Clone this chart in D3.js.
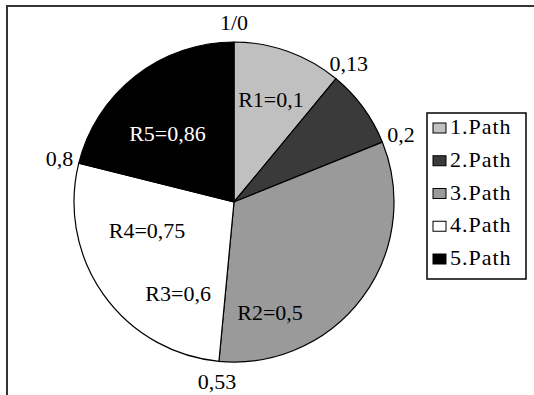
<!DOCTYPE html>
<html>
<head>
<meta charset="utf-8">
<script src="https://cdn.jsdelivr.net/npm/d3@7/dist/d3.min.js"></script>
<style>
  html, body { margin: 0; padding: 0; background: #ffffff; }
  svg { display: block; }
</style>
</head>
<body>
<svg id="chart" width="534" height="395"></svg>
<script>
// ---- data ----
const categories = ["1.Path", "2.Path", "3.Path", "4.Path", "5.Path"];
const sliceValues = [0.110, 0.079, 0.326, 0.274, 0.211];
const boundaryLabels = ["1/0", "0,13", "0,2", "0,53", "0,8"];
const innerLabels = ["R1=0,1", "R2=0,5", "R3=0,6", "R4=0,75", "R5=0,86"];
const colors = ["#c0c0c0", "#3a3a3a", "#9a9a9a", "#ffffff", "#000000"];

// ---- layout (polar placement of inner labels: degrees clockwise from top, radius px) ----
const innerLabelPolar = [
  [19.8, 109], [161.9, 116], [211.5, 107], [251.9, 91.5], [315.8, 95.5]
];
const innerLabelColor = ["#000", "#000", "#000", "#000", "#fff"];
const FONT = "'Liberation Serif', 'Times New Roman', Times, serif";

const cx = 234, cy = 202, R = 160;
const svg = d3.select("#chart");

// frame
svg.append("rect")
  .attr("x", 7).attr("y", 6).attr("width", 560).attr("height", 420)
  .attr("fill", "#fff").attr("stroke", "#333").attr("stroke-width", 2);

const g = svg.append("g").attr("transform", `translate(${cx},${cy})`);

const pie = d3.pie().sort(null).value(d => d)(sliceValues);
const arc = d3.arc().innerRadius(0).outerRadius(R);

g.selectAll("path.slice").data(pie).join("path")
  .attr("class", "slice")
  .attr("d", arc)
  .attr("fill", (d, i) => colors[i])
  .attr("stroke", "#000")
  .attr("stroke-width", 1.2)
  .attr("stroke-linejoin", "round");

// boundary labels at slice start angles
const labelR = 180;
g.selectAll("text.bnd").data(pie).join("text")
  .attr("class", "bnd")
  .attr("x", d => labelR * Math.sin(d.startAngle))
  .attr("y", d => -labelR * Math.cos(d.startAngle))
  .attr("dy", "0.35em")
  .attr("text-anchor", "middle")
  .attr("font-family", FONT)
  .attr("font-size", 22)
  .attr("fill", "#000")
  .text((d, i) => boundaryLabels[i]);

// inner labels
g.selectAll("text.inn").data(innerLabels).join("text")
  .attr("class", "inn")
  .attr("x", (d, i) => innerLabelPolar[i][1] * Math.sin(innerLabelPolar[i][0] * Math.PI / 180))
  .attr("y", (d, i) => -innerLabelPolar[i][1] * Math.cos(innerLabelPolar[i][0] * Math.PI / 180))
  .attr("dy", "0.35em")
  .attr("text-anchor", "middle")
  .attr("font-family", FONT)
  .attr("font-size", 22)
  .attr("fill", (d, i) => innerLabelColor[i])
  .text(d => d);

// legend
const lx = 427, ly = 113, lw = 99, lh = 166;
const lg = svg.append("g");
lg.append("rect")
  .attr("x", lx).attr("y", ly).attr("width", lw).attr("height", lh)
  .attr("fill", "#fff").attr("stroke", "#000").attr("stroke-width", 1.5);

const rowY = d3.scalePoint().domain(categories).range([134, 265]);
const rows = lg.selectAll("g.row").data(categories).join("g").attr("class", "row");
rows.append("rect")
  .attr("x", 433).attr("y", d => rowY(d) - 11)
  .attr("width", 13).attr("height", 10)
  .attr("fill", (d, i) => colors[i])
  .attr("stroke", "#000").attr("stroke-width", 1);
rows.append("text")
  .attr("x", 450).attr("y", d => rowY(d))
  .attr("font-family", FONT)
  .attr("font-size", 22)
  .attr("letter-spacing", 1)
  .attr("fill", "#000")
  .text(d => d);
</script>
</body>
</html>
